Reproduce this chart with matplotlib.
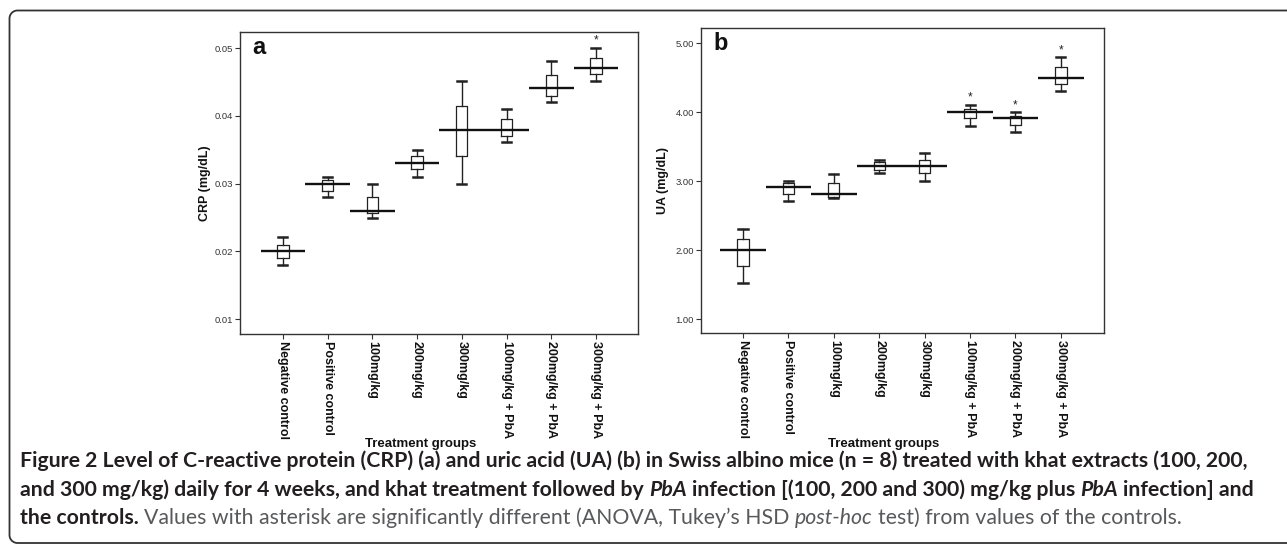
import matplotlib
matplotlib.use('Agg')
import matplotlib.pyplot as plt
from matplotlib.transforms import IdentityTransform
import numpy as np

# ---------------- data ----------------
groups = ["Negative control", "Positive control", "100mg/kg", "200mg/kg", "300mg/kg",
          "100mg/kg + PbA", "200mg/kg + PbA", "300mg/kg + PbA"]

crp_whislo = [0.0180, 0.0280, 0.0250, 0.0310, 0.0300, 0.0361, 0.0421, 0.0451]
crp_q1     = [0.0190, 0.0289, 0.0256, 0.0321, 0.0341, 0.0371, 0.0430, 0.0462]
crp_q3     = [0.0210, 0.0306, 0.0280, 0.0341, 0.0415, 0.0396, 0.0461, 0.0486]
crp_whishi = [0.0221, 0.0310, 0.0300, 0.0350, 0.0451, 0.0410, 0.0481, 0.0501]
crp_mean   = [0.0200, 0.0300, 0.0260, 0.0331, 0.0380, 0.0380, 0.0441, 0.0471]
crp_sig    = [7]
crp_ticks  = [0.01, 0.02, 0.03, 0.04, 0.05]

ua_whislo = [1.52, 2.71, 2.76, 3.12, 3.01, 3.80, 3.71, 4.31]
ua_q1     = [1.77, 2.82, 2.77, 3.16, 3.12, 3.91, 3.81, 4.41]
ua_q3     = [2.16, 2.97, 2.97, 3.28, 3.30, 4.05, 3.95, 4.65]
ua_whishi = [2.31, 3.01, 3.11, 3.31, 3.41, 4.11, 4.00, 4.80]
ua_mean   = [2.01, 2.91, 2.82, 3.22, 3.22, 4.00, 3.91, 4.50]
ua_sig    = [5, 6, 7]
ua_ticks  = [1.0, 2.0, 3.0, 4.0, 5.0]

W, H = 1287, 549
fig = plt.figure(figsize=(W / 100, H / 100), dpi=100)
fig.patch.set_facecolor('white')

CHART_FONT = ['Liberation Sans', 'DejaVu Sans']
LC = '#222222'


def px_axes(left, top, right, bottom):
    return fig.add_axes([left / W, 1 - bottom / H, (right - left) / W, (bottom - top) / H])


def panel(ax, whislo, q1, q3, whishi, mean, sig, ticks, fmt, ylim, xlim, ylabel, letter,
          ylab_x, xlab_x):
    n = len(whislo)
    stats = []
    for i in range(n):
        stats.append(dict(whislo=whislo[i], q1=q1[i], med=mean[i], q3=q3[i],
                          whishi=whishi[i], fliers=[]))
    pos = np.arange(n)
    ax.bxp(stats, positions=pos, widths=0.25, showfliers=False,
           boxprops=dict(color=LC, linewidth=0.9),
           whiskerprops=dict(color=LC, linewidth=1.0),
           capprops=dict(color=LC, linewidth=1.8),
           medianprops=dict(linewidth=0),
           capwidths=0.2)
    ax.hlines(mean, pos - 0.5, pos + 0.5, color='#111111', linewidth=1.7, zorder=3)
    for i in sig:
        ax.annotate('*', (pos[i], whishi[i]), xytext=(0, 0.5), textcoords='offset points',
                    ha='center', va='bottom', fontsize=8.5, color=LC,
                    family=CHART_FONT)
    ax.set_xlim(*xlim)
    ax.set_ylim(*ylim)
    ax.set_yticks(ticks)
    ax.set_yticklabels([fmt.format(t) for t in ticks], fontsize=6.8, color='#333333',
                       family=CHART_FONT)
    ax.set_xticks(pos)
    ax.set_xticklabels(groups, rotation=270, fontsize=9, fontweight='bold',
                       family=CHART_FONT, color='#111111', va='top', ha='center')
    ax.tick_params(direction='out', length=3.5, width=0.8, color='#333333', pad=1.5)
    for s in ax.spines.values():
        s.set_color('#333333')
        s.set_linewidth(1.0)
    ax.text(0.03, 0.95, letter, transform=ax.transAxes, fontsize=17, fontweight='bold',
            family=CHART_FONT, va='center', ha='left', color='#111111')
    pos_ax = ax.get_position()
    fig.text(ylab_x / W, (pos_ax.y0 + pos_ax.y1) / 2, ylabel, rotation=90,
             fontsize=9, fontweight='bold', family=CHART_FONT, ha='center', va='center',
             color='#111111')
    fig.text(xlab_x / W, 1 - 444 / H, 'Treatment groups', fontsize=9.5, fontweight='bold',
             family=CHART_FONT, ha='center', va='center', color='#111111')


ax_a = px_axes(240, 32, 638, 334)
panel(ax_a, crp_whislo, crp_q1, crp_q3, crp_whishi, crp_mean, crp_sig, crp_ticks, '{:.2f}',
      (0.0078, 0.0524), (-0.96, 7.94), 'CRP (mg/dL)', 'a', 205, 421)

ax_b = px_axes(701, 28, 1104, 333)
panel(ax_b, ua_whislo, ua_q1, ua_q3, ua_whishi, ua_mean, ua_sig, ua_ticks, '{:.2f}',
      (0.80, 5.22), (-0.925, 7.95), 'UA (mg/dL)', 'b', 663, 884)

# ---------------- frame ----------------
fr = fig.add_axes([0, 0, 1, 1], zorder=-5)
fr.set_xlim(0, W)
fr.set_ylim(H, 0)
fr.axis('off')
r = 8
xl, yt, yb = 9.5, 10.5, 543
tx = np.concatenate([[W + 2], (xl + r) + r * np.cos(np.linspace(1.5 * np.pi, np.pi, 20)),
                     (xl + r) + r * np.cos(np.linspace(np.pi, 0.5 * np.pi, 20)), [W + 2]])
ty = np.concatenate([[yt], (yt + r) + r * np.sin(np.linspace(1.5 * np.pi, np.pi, 20)),
                     (yb - r) + r * np.sin(np.linspace(np.pi, 0.5 * np.pi, 20)), [yb]])
fr.plot(tx, ty, color='#333333', linewidth=1.3, solid_capstyle='butt')

# ---------------- caption ----------------
CAP_FONT = ['Lato', 'DejaVu Sans']
DARK = '#231f20'
GREY = '#58595b'

line1 = [("Figure 2 Level of C-reactive protein (CRP) (a) and uric acid (UA) (b) in Swiss albino mice (n = 8) treated with khat extracts (100, 200,", 'bold', 'normal', DARK)]
line2 = [("and 300 mg/kg) daily for 4 weeks, and khat treatment followed by ", 'bold', 'normal', DARK),
         ("PbA", 'bold', 'italic', DARK),
         (" infection [(100, 200 and 300) mg/kg plus ", 'bold', 'normal', DARK),
         ("PbA", 'bold', 'italic', DARK),
         (" infection] and", 'bold', 'normal', DARK)]
line3 = [("the controls.", 'bold', 'normal', DARK),
         (" Values with asterisk are significantly different (ANOVA, Tukey\u2019s HSD ", 'normal', 'normal', GREY),
         ("post-hoc", 'normal', 'italic', GREY),
         (" test) from values of the controls.", 'normal', 'normal', GREY)]

fig.canvas.draw()
renderer = fig.canvas.get_renderer()


def measure(s, size, weight, style):
    t = fig.text(0, 0, s, fontsize=size, fontweight=weight, fontstyle=style, family=CAP_FONT,
                 transform=IdentityTransform())
    w = t.get_window_extent(renderer).width
    t.remove()
    return w


def adv(s, size, weight, style):
    return measure('x' + s + 'x', size, weight, style) - measure('xx', size, weight, style)


def line_width(pieces, size):
    return sum(adv(p[0], size, p[1], p[2]) for p in pieces)


def draw_line(pieces, x0, ybase, size):
    x = x0
    for s, wgt, sty, col in pieces:
        stripped = s.lstrip(' ')
        nlead = len(s) - len(stripped)
        x += nlead * adv(' ', size, wgt, sty)
        core = stripped.rstrip(' ')
        ntrail = len(stripped) - len(core)
        fig.text(x, H - ybase, core, fontsize=size, fontweight=wgt, fontstyle=sty,
                 family=CAP_FONT, color=col, transform=IdentityTransform(),
                 ha='left', va='baseline')
        x += adv(core, size, wgt, sty)
        x += ntrail * adv(' ', size, wgt, sty)


base = 10.0
w1 = line_width(line1, base)
cap_size = base * (1255 - 20) / w1
draw_line(line1, 20, 467, cap_size)
draw_line(line2, 20, 495.5, cap_size)
draw_line(line3, 20, 523.5, cap_size)

fig.savefig('out.png', dpi=100, facecolor='white')
